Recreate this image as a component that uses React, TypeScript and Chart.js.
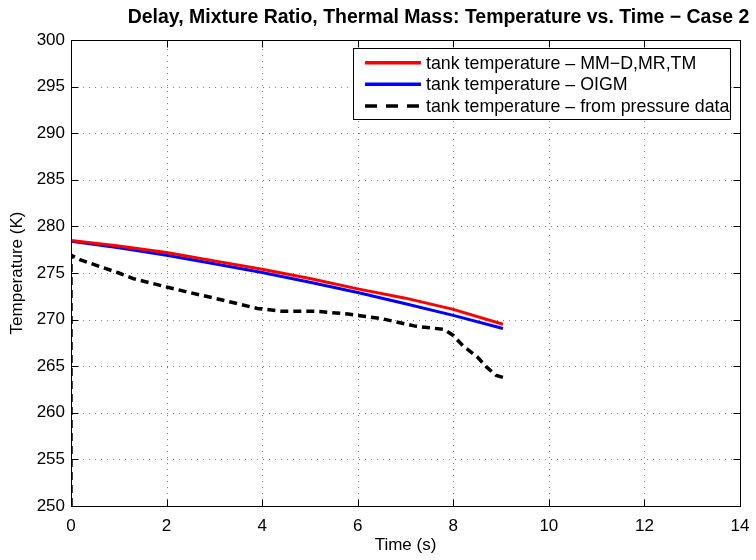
import { useEffect, useRef } from "react";
import { Chart, registerables } from "chart.js";

Chart.register(...registerables);

const TITLE = "Delay, Mixture Ratio, Thermal Mass: Temperature vs. Time \u2212 Case 2";
const X_LABEL = "Time (s)";
const Y_LABEL = "Temperature (K)";
const SERIES_LABELS = [
  "tank temperature \u2013 MM\u2212D,MR,TM",
  "tank temperature \u2013 OIGM",
  "tank temperature \u2013 from pressure data",
];

const MODEL_TIME = [0, 1, 2, 3, 4, 5, 6, 7, 8, 9.04];
const MM_TEMP = [278.5, 277.9, 277.2, 276.3, 275.4, 274.4, 273.3, 272.3, 271.1, 269.5];
const OIGM_TEMP = [278.4, 277.7, 276.9, 276.0, 275.05, 274.0, 272.9, 271.7, 270.45, 269.05];

const DATA_TIME = [0, 0, 0.2, 0.6, 1.0, 1.3, 2.0, 2.4, 3.0, 3.9, 4.4, 5.1, 5.8, 6.5, 7.2, 7.8, 8.0, 8.2, 8.5, 8.7, 8.9, 9.04];
const DATA_TEMP = [250, 276.9, 276.4, 275.7, 275.0, 274.4, 273.5, 273.0, 272.3, 271.2, 270.9, 270.9, 270.6, 270.1, 269.3, 268.95, 268.3, 267.2, 266.0, 264.9, 264.0, 263.8];

const X_TICKS = [0, 2, 4, 6, 8, 10, 12, 14];
const Y_TICKS = [250, 255, 260, 265, 270, 275, 280, 285, 290, 295, 300];

const COLORS = ["#ff0000", "#0000ff", "#000000"];
const FONT = "'Liberation Sans', Arial, sans-serif";

const decorPlugin = {
  id: "matlabDecor",
  beforeDatasetsDraw(chart: any) {
    const { ctx, chartArea: a, scales } = chart;
    ctx.save();
    ctx.strokeStyle = "#808080";
    ctx.lineWidth = 1;
    ctx.setLineDash([1, 5]);
    X_TICKS.forEach((v) => {
      const x = Math.round(scales.x.getPixelForValue(v)) + 0.5;
      if (x <= a.left + 1 || x >= a.right - 1) return;
      ctx.beginPath();
      ctx.moveTo(x, a.bottom);
      ctx.lineTo(x, a.top);
      ctx.stroke();
    });
    Y_TICKS.forEach((v) => {
      const y = Math.round(scales.y.getPixelForValue(v)) + 0.5;
      if (y <= a.top + 1 || y >= a.bottom - 1) return;
      ctx.beginPath();
      ctx.moveTo(a.left, y);
      ctx.lineTo(a.right, y);
      ctx.stroke();
    });
    ctx.restore();
  },
  afterDatasetsDraw(chart: any) {
    const { ctx, chartArea: a, scales } = chart;
    ctx.save();
    ctx.setLineDash([]);
    ctx.strokeStyle = "#000";
    ctx.lineWidth = 1;
    const L = Math.round(a.left) + 0.5;
    const R = Math.round(a.right) + 0.5;
    const T = Math.round(a.top) + 0.5;
    const B = Math.round(a.bottom) + 0.5;
    ctx.strokeRect(L, T, R - L, B - T);
    const tl = 7;
    X_TICKS.forEach((v) => {
      const x = Math.round(scales.x.getPixelForValue(v)) + 0.5;
      ctx.beginPath();
      ctx.moveTo(x, B);
      ctx.lineTo(x, B - tl);
      ctx.moveTo(x, T);
      ctx.lineTo(x, T + tl);
      ctx.stroke();
    });
    Y_TICKS.forEach((v) => {
      const y = Math.round(scales.y.getPixelForValue(v)) + 0.5;
      ctx.beginPath();
      ctx.moveTo(L, y);
      ctx.lineTo(L + tl, y);
      ctx.moveTo(R, y);
      ctx.lineTo(R - tl, y);
      ctx.stroke();
    });

    // Legend
    const bx = 353.5, by = 48.5, bw = 377, bh = 71;
    ctx.fillStyle = "#fff";
    ctx.fillRect(bx, by, bw, bh);
    ctx.strokeRect(bx, by, bw, bh);
    const rows = [62.7, 84.3, 106];
    ctx.font = `17.8px ${FONT}`;
    ctx.textBaseline = "middle";
    ctx.textAlign = "left";
    chart.data.datasets.forEach((ds: any, i: number) => {
      const y = rows[i];
      ctx.strokeStyle = ds.borderColor;
      ctx.lineWidth = 3.5;
      ctx.setLineDash(i === 2 ? [12, 9] : []);
      ctx.beginPath();
      ctx.moveTo(365, y);
      ctx.lineTo(421, y);
      ctx.stroke();
      ctx.setLineDash([]);
      ctx.fillStyle = "#000";
      ctx.fillText(ds.label, 426, y + 1);
    });

    // Title
    ctx.fillStyle = "#000";
    ctx.textAlign = "center";
    ctx.textBaseline = "middle";
    let size = 17;
    ctx.font = `bold ${size}px ${FONT}`;
    const w = ctx.measureText(TITLE).width;
    size = Math.min(22, (size * 622) / w);
    ctx.font = `bold ${size}px ${FONT}`;
    ctx.fillText(TITLE, 438.5, 18);

    // Axis titles
    ctx.font = `17px ${FONT}`;
    ctx.fillText(X_LABEL, (a.left + a.right) / 2, 545);
    ctx.save();
    ctx.translate(17, (a.top + a.bottom) / 2);
    ctx.rotate(-Math.PI / 2);
    ctx.fillText(Y_LABEL, 0, 0);
    ctx.restore();
    ctx.restore();
  },
};

export default function App() {
  const ref = useRef<HTMLCanvasElement | null>(null);
  useEffect(() => {
    document.body.style.margin = "0";
    const canvas = ref.current!;
    const toXY = (xs: number[], ys: number[]) => xs.map((x, i) => ({ x, y: ys[i] }));
    const chart = new Chart(canvas, {
      type: "line",
      data: {
        datasets: [
          {
            label: SERIES_LABELS[0],
            data: toXY(MODEL_TIME, MM_TEMP),
            borderColor: COLORS[0],
            borderWidth: 3,
            pointRadius: 0,
            tension: 0,
            fill: false,
          },
          {
            label: SERIES_LABELS[1],
            data: toXY(MODEL_TIME, OIGM_TEMP),
            borderColor: COLORS[1],
            borderWidth: 3,
            pointRadius: 0,
            tension: 0,
            fill: false,
          },
          {
            label: SERIES_LABELS[2],
            data: toXY(DATA_TIME, DATA_TEMP),
            borderColor: COLORS[2],
            borderWidth: 3.5,
            borderDash: [8, 5],
            pointRadius: 0,
            tension: 0,
            fill: false,
          },
        ],
      },
      options: {
        responsive: false,
        animation: false,
        layout: { padding: { top: 40, right: 16, left: 0, bottom: 0 } },
        plugins: { legend: { display: false }, title: { display: false }, tooltip: { enabled: false } },
        scales: {
          x: {
            type: "linear",
            min: 0,
            max: 14,
            afterBuildTicks: (s: any) => {
              s.ticks = X_TICKS.map((v) => ({ value: v }));
            },
            afterFit: (s: any) => {
              s.height = 54;
              s.paddingRight = 0;
              s.paddingLeft = 0;
            },
            grid: { display: false, drawTicks: false },
            border: { display: false },
            ticks: { color: "#000", font: { family: FONT, size: 17 }, padding: 10, maxRotation: 0 },
          },
          y: {
            type: "linear",
            min: 250,
            max: 300,
            afterBuildTicks: (s: any) => {
              s.ticks = Y_TICKS.map((v) => ({ value: v }));
            },
            afterFit: (s: any) => {
              s.width = 71;
              s.paddingTop = 0;
              s.paddingBottom = 0;
            },
            grid: { display: false, drawTicks: false },
            border: { display: false },
            ticks: { color: "#000", font: { family: FONT, size: 17 }, padding: 6 },
          },
        },
      },
      plugins: [decorPlugin],
    } as any);
    return () => chart.destroy();
  }, []);
  return (
    <div style={{ width: 756, height: 560 }}>
      <canvas ref={ref} width={756} height={560} style={{ display: "block" }} />
    </div>
  );
}
